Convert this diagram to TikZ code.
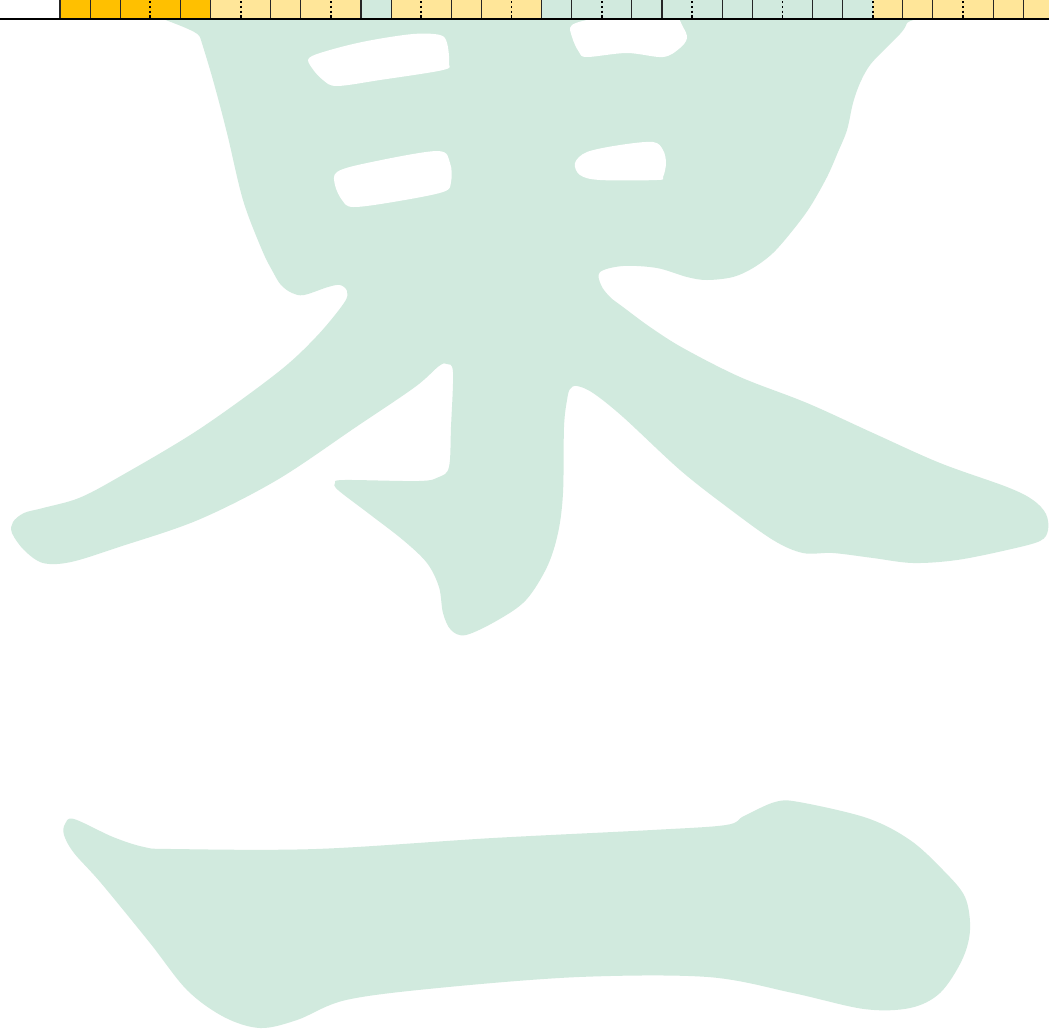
\documentclass[tikz,border=0pt]{standalone}
\definecolor{glyph}{RGB}{209,234,222}
\definecolor{orng}{RGB}{255,192,0}
\definecolor{ylw}{RGB}{255,230,153}
\tikzset{
  glyphfill/.style={fill=glyph},
  holefill/.style={fill=white},
  cellline/.style={draw=black!85, line width=1.1pt},
  groupline/.style={draw=black, line width=1.8pt, dash pattern=on 2.4pt off 2.4pt},
  baseline rule/.style={draw=black, line width=1.8pt}
}
\begin{document}
\begin{tikzpicture}[x=1pt,y=-1pt]
\useasboundingbox (0,0) rectangle (1049,1034);
\fill[white] (0,0) rectangle (1049,1034);
\begin{scope}
\clip (0,0) rectangle (1049,1034);
% upper glyph
\path[glyphfill] plot[smooth cycle, tension=0.55] coordinates {
(186,-5) (915,-5) (907,23) (900,34) (887,47) (870,65) (860,83) (853,103) (847,130) (838,152) (827,177) (810,207) (793,230) (773,253) (753,268) (733,277) (707,280) (687,277) (657,268) (623,266) (600,272) (601,285) (610,297) (623,307) (650,327) (683,348) (740,377) (807,403) (873,433) (940,463) (1007,487) (1033,500) (1046,514) (1048,530) (1040,541) (1007,550) (957,560) (913,563) (873,558) (833,553) (803,553) (773,540) (727,507) (680,470) (623,417) (593,393) (577,386) (570,389) (567,400) (564,427) (563,493) (558,533) (547,567) (526,600) (498,620) (466,635) (451,630) (443,613) (439,587) (427,563) (403,540) (368,513) (338,490) (335,483) (344,480) (419,481) (439,477) (449,467) (451,427) (453,372) (447,364) (439,366) (415,387) (356,427) (277,480) (198,520) (119,547) (71,562) (43,563) (24,550) (12,533) (13,522) (24,513) (43,508) (79,498) (119,477) (198,430) (277,373) (316,337) (344,303) (347,291) (340,285) (328,287) (304,295) (292,293) (281,285) (273,272) (262,250) (243,200) (227,133) (213,80) (200,37)};
% holes
\path[holefill] plot[smooth cycle, tension=0.55] coordinates {
(309,58) (330,50) (367,41) (413,34) (440,35) (447,43) (449,63) (443,70) (380,80) (337,86) (323,80) (312,68)};
\path[holefill] plot[smooth cycle, tension=0.55] coordinates {
(337,172) (367,163) (437,151) (450,163) (451,182) (443,192) (393,202) (353,207) (342,200) (335,185)};
\path[holefill] plot[smooth cycle, tension=0.55] coordinates {
(572,25) (597,18) (640,13) (673,14) (683,27) (687,38) (680,48) (663,57) (627,53) (587,57) (579,52) (572,37)};
\path[holefill] plot[smooth cycle, tension=0.55] coordinates {
(575,163) (587,152) (620,145) (653,142) (663,150) (666,163) (663,177) (657,180) (600,180) (580,175)};
% lower stroke
\path[glyphfill] plot[smooth cycle, tension=0.55] coordinates {
(74,819) (113,837) (144,847) (172,849) (316,849) (493,838) (652,830) (726,825) (744,816) (775,802) (799,802) (867,818) (910,840) (943,870) (965,897) (970,930) (962,960) (940,993) (910,1008) (864,1009) (793,993) (708,977) (579,977) (438,988) (346,1000) (297,1020) (260,1028) (224,1017) (187,990) (150,943) (101,883) (74,853) (64,835) (65,824)};
% top bar cells
\fill[white] (0,0) rectangle (60,18);
\foreach \i in {0,...,4}
  \fill[orng] ({60+30.1*\i},0) rectangle ({60+30.1*(\i+1)},18);
\foreach \i in {5,6,7,8,9,11,12,13,14,15,27,28,29,30,31,32}
  \fill[ylw] ({60+30.1*\i},0) rectangle ({60+30.1*(\i+1)},18);
\foreach \i in {10,16,17,18,19,20,21,22,23,24,25,26}
  \fill[glyph] ({60+30.1*\i},0) rectangle ({60+30.1*(\i+1)},18);
\foreach \i in {0,1,2,4,5,7,8,10,11,13,14,16,17,19,20,22,23,25,26,28,29,31,32}
  \draw[cellline] ({60+30.1*\i},0) -- ({60+30.1*\i},18);
\foreach \i in {3,6,9,12,15,18,21,24,27,30}
  \draw[groupline] ({60+30.1*\i},1) -- ({60+30.1*\i},18);
\draw[baseline rule] (0,18.8) -- (1049,18.8);
\end{scope}
\end{tikzpicture}
\end{document}
